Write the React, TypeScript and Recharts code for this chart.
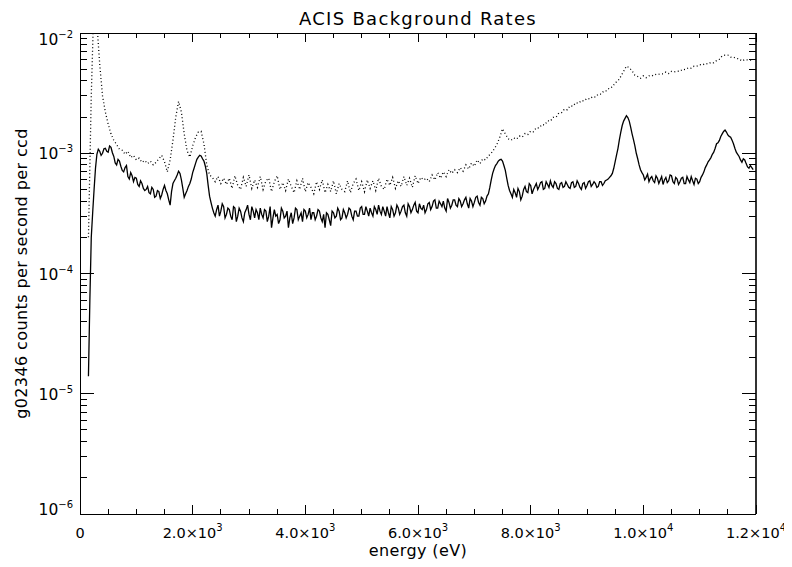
import React from "react";
import { LineChart, Line, XAxis, YAxis } from "recharts";

// ---- data (rates in units of 1e-4 counts / s / ccd) ----
const RATE_UNIT = 1e-4;
const HALF_BIN_EV = 25;

const ENERGY_EV = [
  150, 200, 250, 300, 350, 400, 450, 500, 550, 600,
  650, 700, 750, 800, 850, 900, 950, 1000, 1050, 1100,
  1150, 1200, 1250, 1300, 1350, 1400, 1450, 1500, 1550, 1600,
  1650, 1700, 1750, 1800, 1850, 1900, 1950, 2000, 2050, 2100,
  2150, 2200, 2250, 2300, 2350, 2400, 2450, 2500, 2550, 2600,
  2650, 2700, 2750, 2800, 2850, 2900, 2950, 3000, 3050, 3100,
  3150, 3200, 3250, 3300, 3350, 3400, 3450, 3500, 3550, 3600,
  3650, 3700, 3750, 3800, 3850, 3900, 3950, 4000, 4050, 4100,
  4150, 4200, 4250, 4300, 4350, 4400, 4450, 4500, 4550, 4600,
  4650, 4700, 4750, 4800, 4850, 4900, 4950, 5000, 5050, 5100,
  5150, 5200, 5250, 5300, 5350, 5400, 5450, 5500, 5550, 5600,
  5650, 5700, 5750, 5800, 5850, 5900, 5950, 6000, 6050, 6100,
  6150, 6200, 6250, 6300, 6350, 6400, 6450, 6500, 6550, 6600,
  6650, 6700, 6750, 6800, 6850, 6900, 6950, 7000, 7050, 7100,
  7150, 7200, 7250, 7300, 7350, 7400, 7450, 7500, 7550, 7600,
  7650, 7700, 7750, 7800, 7850, 7900, 7950, 8000, 8050, 8100,
  8150, 8200, 8250, 8300, 8350, 8400, 8450, 8500, 8550, 8600,
  8650, 8700, 8750, 8800, 8850, 8900, 8950, 9000, 9050, 9100,
  9150, 9200, 9250, 9300, 9350, 9400, 9450, 9500, 9550, 9600,
  9650, 9700, 9750, 9800, 9850, 9900, 9950, 10000, 10050, 10100,
  10150, 10200, 10250, 10300, 10350, 10400, 10450, 10500, 10550, 10600,
  10650, 10700, 10750, 10800, 10850, 10900, 10950, 11000, 11050, 11100,
  11150, 11200, 11250, 11300, 11350, 11400, 11450, 11500, 11550, 11600,
  11650, 11700, 11750, 11800, 11850, 11900, 11950,
];

// solid curve, at ENERGY_EV
const RATE_SOLID = [
  0.14, 2.0, 5.0, 9.8, 10.4, 10.0, 11.0, 10.2, 11.2, 9.4,
  8.0, 8.6, 7.2, 7.6, 6.4, 6.9, 5.8, 6.2, 5.3, 5.6,
  4.9, 5.3, 4.6, 5.0, 4.4, 4.8, 4.5, 5.4, 4.6, 3.7,
  5.6, 6.2, 7.1, 6.0, 4.3, 4.9, 5.6, 6.9, 8.2, 9.3,
  9.5, 8.6, 6.8, 4.4, 3.5, 3.0, 3.7, 3.3, 3.6, 3.1,
  3.4, 2.8, 3.5, 3.0, 3.3, 2.7, 3.4, 3.1, 3.6, 2.9,
  3.2, 3.5, 2.9, 3.3, 3.0, 2.4, 3.4, 3.1, 2.8, 3.3,
  3.0, 2.4, 3.2, 2.9, 3.4, 3.0, 2.7, 3.3, 3.1, 2.8,
  3.2, 3.0, 3.3, 2.7, 2.4, 3.1, 2.5, 3.2, 3.0, 3.3,
  2.9, 3.2, 3.1, 3.4, 2.8, 3.3, 3.0, 3.6, 3.1, 3.3,
  3.5, 3.0, 3.4, 3.7, 3.1, 3.3, 3.6, 2.9, 3.4, 3.2,
  3.5, 3.3, 3.7, 3.0, 3.6, 3.4, 3.9, 3.2, 3.5, 3.7,
  3.4, 3.9, 3.6, 4.1, 3.5, 3.8, 4.0, 3.3, 3.9, 3.7,
  4.1, 3.6, 4.0, 3.8, 4.3, 3.5, 4.0, 3.9, 4.4, 3.7,
  4.2, 4.0, 4.6, 6.0, 7.4, 8.2, 8.8, 8.6, 7.2, 5.4,
  4.6, 5.0, 4.3, 4.8, 4.4, 5.3, 4.7, 5.4, 5.0, 5.6,
  5.3, 5.8, 5.1, 5.5, 5.9, 5.2, 5.6, 5.0, 5.7, 5.3,
  5.5, 5.1, 5.8, 5.3, 5.6, 5.0, 5.7, 5.4, 5.9, 5.5,
  5.6, 5.3, 5.8, 5.6, 6.0, 6.3, 6.8, 8.5, 11.0, 15.0,
  18.5, 20.5, 18.5, 14.5, 11.5, 9.0, 7.3, 6.6, 6.3, 5.8,
  6.4, 5.7, 6.2, 6.0, 5.5, 6.3, 5.9, 6.5, 5.6, 6.1,
  5.8, 6.3, 5.6, 6.0, 6.4, 5.5, 6.1, 5.8, 6.6, 7.6,
  8.5, 9.2, 10.2, 12.0, 12.8, 14.5, 15.6, 14.2, 13.6, 12.0,
  10.2, 9.4, 8.4, 8.8, 7.7, 7.9, 7.3,
];

// solid curve, at the bins in between (ENERGY_EV + 25 eV)
const RATE_SOLID_MID = [
  0.6, 3.2, 7.5, 10.8, 9.6, 10.9, 10.4, 11.5, 10.1, 8.3,
  8.9, 7.8, 7.0, 7.9, 6.1, 6.5, 6.3, 5.5, 5.9, 5.1,
  5.0, 4.7, 5.2, 4.3, 4.9, 4.2, 5.0, 4.9, 4.1, 4.8,
  5.9, 6.6, 6.8, 5.1, 4.6, 5.3, 6.1, 7.5, 8.9, 9.6,
  9.0, 7.8, 5.4, 3.9, 3.2, 3.4, 3.0, 3.8, 2.9, 3.5,
  3.0, 3.6, 2.7, 3.5, 2.9, 3.2, 3.7, 2.8, 3.3, 3.4,
  2.8, 3.1, 3.4, 2.7, 3.6, 2.9, 3.0, 2.6, 3.5, 2.9,
  3.3, 2.9, 2.6, 3.5, 2.8, 3.2, 3.4, 2.9, 3.5, 3.2,
  2.8, 3.4, 2.9, 3.1, 3.2, 2.8, 3.3, 2.9, 3.5, 2.8,
  3.4, 2.9, 3.5, 3.0, 3.3, 3.0, 3.5, 3.1, 3.6, 3.0,
  3.2, 3.6, 3.1, 3.3, 3.6, 3.0, 3.2, 3.6, 3.0, 3.7,
  3.1, 3.6, 3.2, 3.8, 3.2, 3.7, 3.3, 3.8, 3.4, 3.2,
  3.8, 3.4, 4.0, 3.5, 4.0, 3.6, 3.5, 4.2, 3.5, 4.1,
  3.7, 4.2, 3.6, 4.1, 3.8, 4.2, 3.6, 4.3, 3.9, 4.3,
  3.8, 4.4, 5.2, 6.8, 7.9, 8.6, 8.9, 7.9, 6.2, 4.9,
  4.3, 4.7, 5.1, 4.1, 5.0, 4.8, 5.6, 4.6, 5.3, 5.0,
  5.7, 5.0, 5.8, 5.2, 5.4, 5.8, 5.1, 5.6, 5.2, 5.8,
  5.2, 5.7, 5.2, 5.9, 5.2, 5.6, 5.1, 5.8, 5.3, 5.8,
  5.2, 5.8, 5.4, 5.9, 6.1, 6.5, 7.5, 9.7, 13.0, 17.0,
  19.5, 19.8, 16.5, 13.0, 10.0, 8.0, 6.9, 6.0, 6.7, 6.2,
  5.9, 6.5, 5.6, 6.4, 6.0, 5.7, 6.6, 5.8, 6.3, 5.5,
  6.2, 5.6, 6.4, 5.7, 5.9, 6.2, 5.6, 6.3, 7.0, 8.0,
  8.8, 9.8, 11.0, 12.2, 13.8, 15.2, 15.0, 13.8, 12.8, 11.0,
  9.8, 8.8, 9.0, 8.2, 7.5, 7.6,
];

// dotted curve, at ENERGY_EV
const RATE_DOTTED = [
  2.0, 30, 200, 120, 55, 30, 22, 17.5, 14.5, 12.8,
  11.8, 10.8, 10.6, 9.8, 10.4, 9.2, 9.6, 8.8, 9.1, 8.4,
  8.7, 8.2, 8.6, 8.0, 8.4, 9.0, 9.6, 8.5, 7.0, 8.8,
  12.8, 20, 27, 22, 14.5, 10.5, 9.3, 11.5, 13.5, 15.0,
  15.2, 12.0, 8.0, 6.6, 6.3, 5.8, 6.4, 5.6, 6.2, 5.5,
  6.2, 5.1, 6.5, 5.4, 5.0, 6.3, 5.3, 6.6, 5.1, 6.0,
  5.2, 6.4, 5.0, 5.9, 6.2, 4.8, 5.8, 6.5, 5.0, 5.7,
  4.9, 6.1, 5.3, 4.7, 5.9, 5.0, 6.2, 4.8, 5.7, 5.2,
  4.6, 5.8, 5.0, 6.0, 4.7, 5.5, 4.8, 5.9, 4.6, 5.6,
  5.0, 4.8, 5.9, 4.7, 5.6, 6.1, 4.9, 5.8, 4.8, 6.0,
  5.1, 5.9, 4.9, 6.2, 5.3, 5.0, 6.1, 5.4, 6.3, 5.1,
  5.9, 5.3, 6.4, 5.4, 6.2, 5.2, 6.5, 5.6, 6.3, 6.0,
  6.2, 5.8, 6.6, 6.0, 6.9, 6.2, 7.0, 6.4, 7.3, 6.8,
  7.3, 6.9, 7.6, 7.1, 8.0, 7.4, 8.3, 7.8, 8.8, 8.2,
  9.0, 8.8, 9.5, 10.0, 10.8, 11.8, 13.5, 16.0, 14.5, 13.2,
  12.8, 13.4, 13.1, 13.9, 13.6, 14.6, 14.3, 15.3, 15.1, 16.3,
  16.2, 17.3, 17.2, 18.6, 18.5, 19.9, 19.9, 21.6, 21.8, 23.3,
  23.0, 24.8, 24.6, 26.3, 26.0, 27.4, 27.2, 28.6, 28.2, 29.6,
  29.3, 31.0, 31.0, 33.0, 33.0, 35.0, 35.5, 38.5, 40.0, 43.5,
  48, 53, 51.5, 48.5, 44.5, 43.5, 42, 44, 42.5, 44,
  43.8, 45.3, 45.0, 45.8, 45.7, 47.3, 46.0, 48.0, 47.5, 48.2,
  48.0, 50.0, 49.6, 51.4, 51.0, 53.0, 53.0, 54.6, 54.2, 55.8,
  55.2, 57.0, 56.5, 59.0, 60.5, 64.5, 65.5, 65.5, 63.0, 63.0,
  61.5, 61.0, 58.5, 60.0, 59.8, 59.5, 59.6,
];

const X_TICKS = [
  0, 500, 1000, 1500, 2000, 2500, 3000, 3500, 4000, 4500, 5000, 5500, 6000,
  6500, 7000, 7500, 8000, 8500, 9000, 9500, 10000, 10500, 11000, 11500, 12000,
];
const X_TICK_LABELS = [
  { value: 0, base: "0", exp: "" },
  { value: 2000, base: "2.0×10", exp: "3" },
  { value: 4000, base: "4.0×10", exp: "3" },
  { value: 6000, base: "6.0×10", exp: "3" },
  { value: 8000, base: "8.0×10", exp: "3" },
  { value: 10000, base: "1.0×10", exp: "4" },
  { value: 12000, base: "1.2×10", exp: "4" },
];

const Y_TICKS = [
  1e-6, 2e-6, 3e-6, 4e-6, 5e-6, 6e-6, 7e-6, 8e-6, 9e-6,
  1e-5, 2e-5, 3e-5, 4e-5, 5e-5, 6e-5, 7e-5, 8e-5, 9e-5,
  1e-4, 2e-4, 3e-4, 4e-4, 5e-4, 6e-4, 7e-4, 8e-4, 9e-4,
  1e-3, 2e-3, 3e-3, 4e-3, 5e-3, 6e-3, 7e-3, 8e-3, 9e-3,
  1e-2,
];
const Y_TICK_LABELS = [
  { value: 1e-6, base: "10", exp: "−6" },
  { value: 1e-5, base: "10", exp: "−5" },
  { value: 1e-4, base: "10", exp: "−4" },
  { value: 1e-3, base: "10", exp: "−3" },
  { value: 1e-2, base: "10", exp: "−2" },
];

const TITLE = "ACIS Background Rates";
const X_TITLE = "energy (eV)";
const Y_TITLE = "g02346 counts per second per ccd";

const dottedData = ENERGY_EV.map((e, i) => ({ e, rate: RATE_DOTTED[i] * RATE_UNIT }));
const solidData = ENERGY_EV.flatMap((e, i) =>
  i < RATE_SOLID_MID.length
    ? [
        { e, rate: RATE_SOLID[i] * RATE_UNIT },
        { e: e + HALF_BIN_EV, rate: RATE_SOLID_MID[i] * RATE_UNIT },
      ]
    : [{ e, rate: RATE_SOLID[i] * RATE_UNIT }]
);

// ---- styling ----
const FONT = "'DejaVu Sans', sans-serif";
const INK = "#000";
const W = 784;
const H = 559;
const PLOT = { left: 72, right: 748, top: 25, bottom: 506 };

const isDecade = (v: number) =>
  Math.abs(Math.log10(v) - Math.round(Math.log10(v))) < 1e-6;
const findY = (v: number) =>
  Y_TICK_LABELS.find((l) => Math.abs(Math.log10(l.value) - Math.log10(v)) < 1e-6);

const tickStroke = { stroke: INK, strokeWidth: 1, fill: "none", shapeRendering: "crispEdges" as const };

const BottomTick = (props: any) => {
  const x = Number(props.x);
  const y = Number(props.y);
  const v = Number(props.payload.value);
  const major = v % 2000 === 0;
  const lab = X_TICK_LABELS.find((l) => l.value === v);
  return (
    <g>
      <path d={`M${x},${y}V${y - (major ? 9 : 5)}`} {...tickStroke} />
      {lab && (
        <text x={x} y={y + 24} textAnchor="middle" fontFamily={FONT} fontSize={14.5} fill={INK} stroke="none">
          {lab.base}
          {lab.exp && (
            <tspan dy={-7} fontSize={10}>
              {lab.exp}
            </tspan>
          )}
        </text>
      )}
    </g>
  );
};

const TopTick = (props: any) => {
  const x = Number(props.x);
  const y = Number(props.y);
  const major = Number(props.payload.value) % 2000 === 0;
  return (
    <g>
      <path d={`M${x},${y}V${y + (major ? 9 : 5)}`} {...tickStroke} />
    </g>
  );
};

const LeftTick = (props: any) => {
  const x = Number(props.x);
  const y = Number(props.y);
  const v = Number(props.payload.value);
  const major = isDecade(v);
  const lab = major ? findY(v) : undefined;
  let by = y + 6;
  if (lab && lab.value === 1e-2) by = y + 12;
  if (lab && lab.value === 1e-6) by = y + 1;
  return (
    <g>
      <path d={`M${x},${y}H${x + (major ? 14 : 7)}`} {...tickStroke} />
      {lab && (
        <text x={x - 7} y={by} textAnchor="end" fontFamily={FONT} fontSize={15.5} fill={INK} stroke="none">
          {lab.base}
          <tspan dy={-7} fontSize={10}>
            {lab.exp}
          </tspan>
        </text>
      )}
    </g>
  );
};

const RightTick = (props: any) => {
  const x = Number(props.x);
  const y = Number(props.y);
  const major = isDecade(Number(props.payload.value));
  return (
    <g>
      <path d={`M${x},${y}H${x - (major ? 14 : 7)}`} {...tickStroke} />
    </g>
  );
};

const axisLineStyle = { stroke: INK, strokeWidth: 1, shapeRendering: "crispEdges" };

export default function App() {
  const cx = (PLOT.left + PLOT.right) / 2;
  const cy = (PLOT.top + PLOT.bottom) / 2;
  return (
    <div style={{ position: "relative", width: W, height: H, background: "#fff" }}>
      <style>{".recharts-surface{overflow:visible}"}</style>
      <LineChart
        width={W}
        height={H}
        margin={{ top: PLOT.top - 1, right: W - PLOT.right - 1, bottom: 0, left: 0 }}
      >
        <XAxis
          xAxisId="bottom"
          dataKey="e"
          type="number"
          domain={[0, 12000]}
          ticks={X_TICKS}
          interval={0}
          allowDataOverflow
          height={H - PLOT.bottom}
          tickSize={0}
          tickMargin={0}
          tickLine={false}
          axisLine={axisLineStyle}
          tick={(p: any) => <BottomTick {...p} />}
        />
        <XAxis
          xAxisId="top"
          orientation="top"
          dataKey="e"
          type="number"
          domain={[0, 12000]}
          ticks={X_TICKS}
          interval={0}
          allowDataOverflow
          height={1}
          tickSize={0}
          tickMargin={0}
          tickLine={false}
          axisLine={axisLineStyle}
          tick={(p: any) => <TopTick {...p} />}
        />
        <YAxis
          yAxisId="left"
          scale="log"
          type="number"
          domain={[1e-6, 1e-2]}
          ticks={Y_TICKS}
          interval={0}
          allowDataOverflow
          width={PLOT.left}
          tickSize={0}
          tickMargin={0}
          tickLine={false}
          axisLine={axisLineStyle}
          tick={(p: any) => <LeftTick {...p} />}
        />
        <YAxis
          yAxisId="right"
          orientation="right"
          scale="log"
          type="number"
          domain={[1e-6, 1e-2]}
          ticks={Y_TICKS}
          interval={0}
          allowDataOverflow
          width={1}
          tickSize={0}
          tickMargin={0}
          tickLine={false}
          axisLine={{ stroke: "#333", strokeWidth: 2, shapeRendering: "crispEdges" }}
          tick={(p: any) => <RightTick {...p} />}
        />
        {/* invisible copy so the top / right frame axes get their scales */}
        <Line
          data={dottedData}
          xAxisId="top"
          yAxisId="right"
          type="linear"
          dataKey="rate"
          stroke="none"
          strokeOpacity={0}
          dot={false}
          activeDot={false}
          legendType="none"
          isAnimationActive={false}
        />
        <Line
          data={dottedData}
          xAxisId="bottom"
          yAxisId="left"
          type="linear"
          dataKey="rate"
          stroke={INK}
          strokeWidth={1.3}
          strokeDasharray="1 2.5"
          dot={false}
          isAnimationActive={false}
        />
        <Line
          data={solidData}
          xAxisId="bottom"
          yAxisId="left"
          type="linear"
          dataKey="rate"
          stroke={INK}
          strokeWidth={1.3}
          dot={false}
          isAnimationActive={false}
        />
      </LineChart>
      <svg
        width={W}
        height={H}
        style={{ position: "absolute", left: 0, top: 0, pointerEvents: "none" }}
      >
        <text x={cx} y={17} textAnchor="middle" fontFamily={FONT} fontSize={18} letterSpacing={1.3} fill={INK}>
          {TITLE}
        </text>
        <text x={cx} y={548} textAnchor="middle" fontFamily={FONT} fontSize={16} letterSpacing={0.4} fill={INK}>
          {X_TITLE}
        </text>
        <text
          x={0}
          y={0}
          transform={`translate(19, ${cy}) rotate(-90)`}
          textAnchor="middle"
          fontFamily={FONT}
          fontSize={16}
          letterSpacing={0.4}
          fill={INK}
        >
          {Y_TITLE}
        </text>
      </svg>
    </div>
  );
}
